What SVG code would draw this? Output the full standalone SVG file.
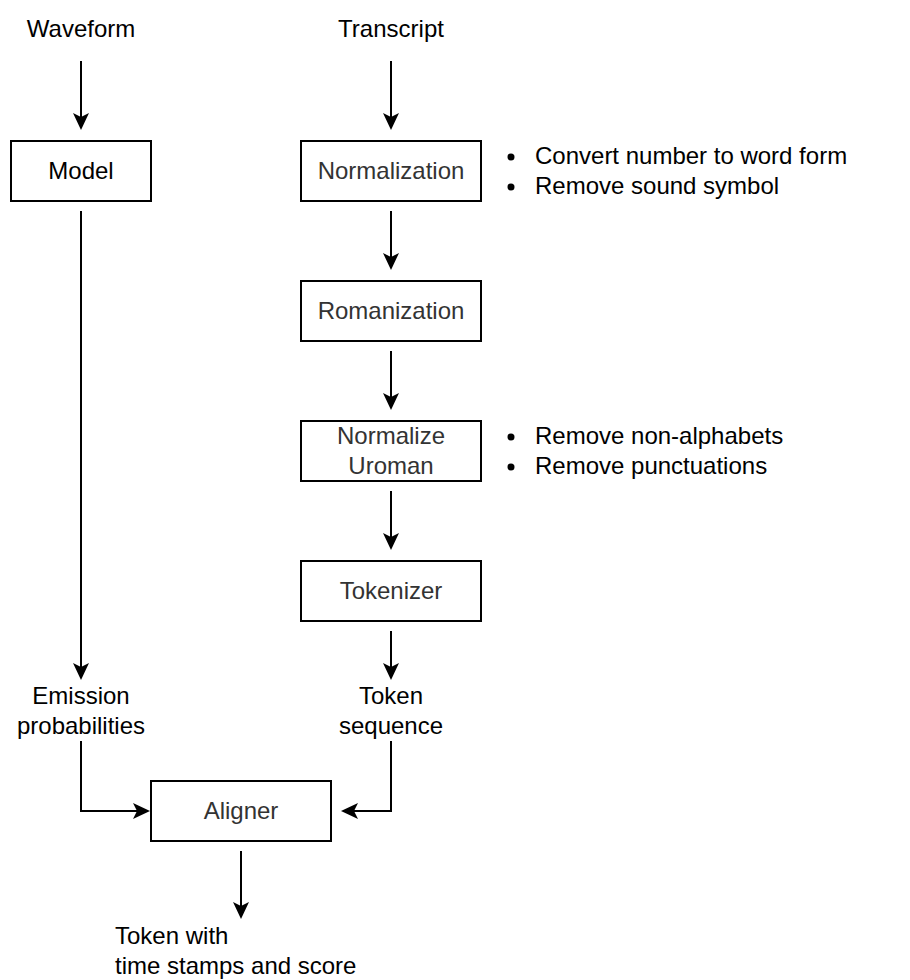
<svg xmlns="http://www.w3.org/2000/svg" width="910" height="980" viewBox="0 0 910 980">
<style>
  text { font-family: "Liberation Sans", Arial, Helvetica, sans-serif; font-size: 24px; fill: #000000; }
  .c { text-anchor: middle; }
  .g { fill: #333333; }
  .box { fill: #ffffff; stroke: #000000; stroke-width: 2; }
  .edge { fill: none; stroke: #000000; stroke-width: 2; }
</style>
<defs>
  <marker id="arr" markerUnits="userSpaceOnUse" markerWidth="18" markerHeight="18" refX="4" refY="8" orient="auto" viewBox="0 0 18 16">
    <path d="M17,8 L0,0 L4,8 L0,16 Z" fill="#000000"/>
  </marker>
</defs>
<rect width="910" height="980" fill="#ffffff"/>
<g id="connectors">
  <path class="edge" d="M81,61 L81,117" marker-end="url(#arr)"/>
  <path class="edge" d="M391,61 L391,117" marker-end="url(#arr)"/>
  <path class="edge" d="M81,211 L81,667" marker-end="url(#arr)"/>
  <path class="edge" d="M391,211 L391,257" marker-end="url(#arr)"/>
  <path class="edge" d="M391,351 L391,397" marker-end="url(#arr)"/>
  <path class="edge" d="M391,491 L391,537" marker-end="url(#arr)"/>
  <path class="edge" d="M391,631 L391,667" marker-end="url(#arr)"/>
  <path class="edge" d="M81,741 L81,811 L137,811" marker-end="url(#arr)"/>
  <path class="edge" d="M391,741 L391,811 L354,811" marker-end="url(#arr)"/>
  <path class="edge" d="M241,851 L241,906" marker-end="url(#arr)"/>
</g>
<g id="waveform"><text class="c" x="81" y="36.5">Waveform</text></g>
<g id="transcript"><text class="c" x="391" y="36.5">Transcript</text></g>
<g id="model">
  <rect class="box" x="11" y="141" width="140" height="60"/>
  <text class="c" x="81" y="178.5">Model</text>
</g>
<g id="normalization">
  <rect class="box" x="301" y="141" width="180" height="60"/>
  <text class="c g" x="391" y="178.5">Normalization</text>
</g>
<g id="normalization-notes">
  <circle cx="511" cy="157" r="3.5" fill="#000000"/>
  <text x="535" y="163.5">Convert number to word form</text>
  <circle cx="511" cy="187" r="3.5" fill="#000000"/>
  <text x="535" y="193.5">Remove sound symbol</text>
</g>
<g id="romanization">
  <rect class="box" x="301" y="281" width="180" height="60"/>
  <text class="c g" x="391" y="318.5">Romanization</text>
</g>
<g id="normalize-uroman">
  <rect class="box" x="301" y="421" width="180" height="60"/>
  <text class="c g" x="391" y="443.5">Normalize</text>
  <text class="c g" x="391" y="473.5">Uroman</text>
</g>
<g id="uroman-notes">
  <circle cx="511" cy="437" r="3.5" fill="#000000"/>
  <text x="535" y="443.5">Remove non-alphabets</text>
  <circle cx="511" cy="467" r="3.5" fill="#000000"/>
  <text x="535" y="473.5">Remove punctuations</text>
</g>
<g id="tokenizer">
  <rect class="box" x="301" y="561" width="180" height="60"/>
  <text class="c g" x="391" y="598.5">Tokenizer</text>
</g>
<g id="emission">
  <text class="c" x="81" y="703.5">Emission</text>
  <text class="c" x="81" y="733.5">probabilities</text>
</g>
<g id="token-sequence">
  <text class="c" x="391" y="703.5">Token</text>
  <text class="c" x="391" y="733.5">sequence</text>
</g>
<g id="aligner">
  <rect class="box" x="151" y="781" width="180" height="60"/>
  <text class="c g" x="241" y="818.5">Aligner</text>
</g>
<g id="output">
  <text x="115" y="943.5">Token with</text>
  <text x="115" y="973.5">time stamps and score</text>
</g>
</svg>
